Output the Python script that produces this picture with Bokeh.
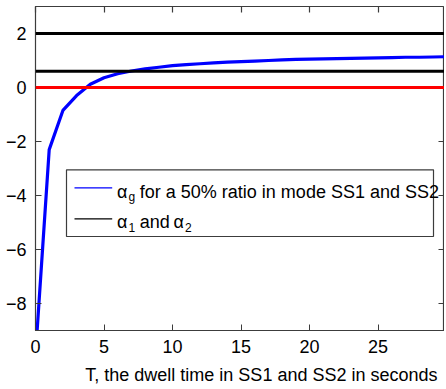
from bokeh.plotting import figure
from bokeh.models import (Range1d, LinearAxis, FixedTicker, Span, Label, Title,
                          ColumnDataSource)
from bokeh.embed import file_html
from bokeh.resources import INLINE

# ---- data ----
T = [0, 1, 2, 3, 4, 5, 6, 7, 8, 9, 10, 11, 12, 13, 14, 15, 16, 17, 18, 19, 20,
     21, 22, 23, 24, 25, 26, 27, 28, 29, 30]
alpha_g = [-9.9, -2.3, -0.85, -0.30, 0.12, 0.36, 0.51, 0.61, 0.69, 0.75, 0.81,
           0.85, 0.88, 0.91, 0.94, 0.96, 0.98, 1.00, 1.02, 1.04, 1.05,
           1.06, 1.07, 1.08, 1.09, 1.10, 1.11, 1.12, 1.12, 1.13, 1.14]
alpha_levels = [2.0, 0.6]       # alpha_1 and alpha_2
zero_level = 0.0
x_ticks = [0, 5, 10, 15, 20, 25]
y_ticks = [-8, -6, -4, -2, 0, 2]
x_label = "T, the dwell time in SS1 and SS2 in seconds"
legend_g_text = "for a 50% ratio in mode SS1 and SS2"

FONT = "Liberation Sans"
FS = "18px"
AX_COLOR = "#3c3c3c"

X0, X1 = 0, 29.85
Y0, Y1 = -9, 3
FW, FH = 409, 324
px_x = (X1 - X0) / FW   # data units per pixel
px_y = (Y1 - Y0) / FH

p = figure(width=446, height=389, output_backend="svg", toolbar_location=None,
           x_range=Range1d(X0, X1), y_range=Range1d(Y0, Y1),
           frame_width=FW, frame_height=FH,
           min_border_left=35, min_border_right=0, min_border_top=6, min_border_bottom=0)
p.background_fill_color = "white"
p.border_fill_color = "white"
p.outline_line_color = AX_COLOR
p.outline_line_width = 1.2
p.grid.visible = False

for ax in (p.xaxis[0], p.yaxis[0]):
    ax.major_label_text_font = FONT
    ax.major_label_text_font_size = FS
    ax.major_label_text_color = "black"
    ax.major_tick_in = 6
    ax.major_tick_out = 0
    ax.minor_tick_in = 0
    ax.minor_tick_out = 0
    ax.axis_line_color = AX_COLOR
    ax.major_tick_line_color = AX_COLOR
p.xaxis[0].ticker = FixedTicker(ticks=x_ticks)
p.yaxis[0].ticker = FixedTicker(ticks=y_ticks)
p.xaxis[0].major_label_standoff = 9
p.yaxis[0].major_label_standoff = 9
p.yaxis[0].major_label_overrides = {t: str(t).replace("-", "\u2212") for t in y_ticks}

# mirrored inward ticks on the top and right edges (no labels)
top_ax = LinearAxis(ticker=FixedTicker(ticks=x_ticks), axis_line_color=None,
                    major_tick_in=6, major_tick_out=0, minor_tick_in=0, minor_tick_out=0,
                    major_tick_line_color=AX_COLOR, major_tick_line_width=1.2,
                    major_label_standoff=0, major_label_text_font_size="1px",
                    major_label_overrides={t: "" for t in x_ticks})
right_ax = LinearAxis(ticker=FixedTicker(ticks=y_ticks), axis_line_color=None,
                      major_tick_in=6, major_tick_out=0, minor_tick_in=0, minor_tick_out=0,
                      major_tick_line_color=AX_COLOR, major_tick_line_width=1.2,
                      major_label_standoff=0, major_label_text_font_size="1px",
                      major_label_overrides={t: "" for t in y_ticks})
p.add_layout(top_ax, "above")
p.add_layout(right_ax, "right")

# x-axis label, right-aligned like the reference
p.add_layout(Title(text=x_label, align="right", offset=7, text_font=FONT,
                   text_font_size=FS, text_font_style="normal", text_color="black",
                   standoff=15), "below")

# reference lines
for lv in alpha_levels:
    p.add_layout(Span(location=lv, dimension="width", line_color="black", line_width=3))
p.add_layout(Span(location=zero_level, dimension="width", line_color="#ff0000", line_width=3))

src = ColumnDataSource(dict(T=T, a=alpha_g))
p.line("T", "a", source=src, line_color="#0000ff", line_width=3.2)

# ---- legend (drawn by hand for the subscripts) ----
lx0 = X0 + 31 * px_x
ly0 = Y1 - 163.3 * px_y
lw, lh = 367, 66.7
p.quad(left=[lx0], right=[lx0 + lw * px_x], top=[ly0], bottom=[ly0 - lh * px_y],
       fill_color="white", line_color=AX_COLOR, line_width=1.2)

def yrow(d):
    return ly0 - d * px_y

key_colors = ["#0000ff", "black"]
key_dy = [18, 49]
p.segment(x0=[lx0 + 8 * px_x] * 2, x1=[lx0 + 45.7 * px_x] * 2,
          y0=[yrow(d) for d in key_dy], y1=[yrow(d) for d in key_dy],
          line_color=key_colors, line_width=1.3)

def lab(x, y, text, size=FS):
    p.add_layout(Label(x=x, y=y, text=text, text_font=FONT, text_font_size=size,
                       text_color="black", text_baseline="alphabetic"))

b1, b2 = 21.7, 52.4
lab(lx0 + 50.5 * px_x, yrow(b1), "\u03b1")
lab(lx0 + 62 * px_x, yrow(b1 + 5), "g", "12px")
lab(lx0 + 73.3 * px_x, yrow(b1), legend_g_text)
lab(lx0 + 50.5 * px_x, yrow(b2), "\u03b1")
lab(lx0 + 62 * px_x, yrow(b2 + 5), "1", "12px")
lab(lx0 + 73.3 * px_x, yrow(b2), "and")
lab(lx0 + 107 * px_x, yrow(b2), "\u03b1")
lab(lx0 + 118.5 * px_x, yrow(b2 + 5), "2", "12px")

open("out.html", "w").write(file_html(p, INLINE))
